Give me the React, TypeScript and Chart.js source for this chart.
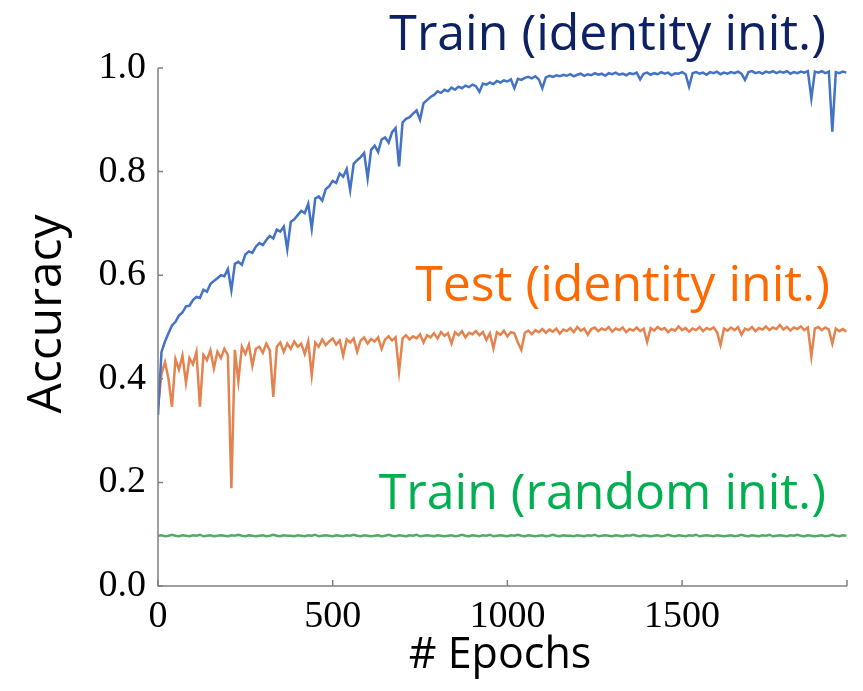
import React, { useEffect, useRef } from "react";
import { Chart, registerables } from "chart.js";

Chart.register(...registerables);

const epochs = [
  0, 10, 20, 30, 40, 50, 60, 70, 80, 90, 100, 110, 120, 130, 140, 150, 160, 170, 180, 190,
  200, 210, 220, 230, 240, 250, 260, 270, 280, 290, 300, 310, 320, 330, 340, 350, 360, 370, 380, 390,
  400, 410, 420, 430, 440, 450, 460, 470, 480, 490, 500, 510, 520, 530, 540, 550, 560, 570, 580, 590,
  600, 610, 620, 630, 640, 650, 660, 670, 680, 690, 700, 710, 720, 730, 740, 750, 760, 770, 780, 790,
  800, 810, 820, 830, 840, 850, 860, 870, 880, 890, 900, 910, 920, 930, 940, 950, 960, 970, 980, 990,
  1000, 1010, 1020, 1030, 1040, 1050, 1060, 1070, 1080, 1090, 1100, 1110, 1120, 1130, 1140, 1150, 1160, 1170, 1180, 1190,
  1200, 1210, 1220, 1230, 1240, 1250, 1260, 1270, 1280, 1290, 1300, 1310, 1320, 1330, 1340, 1350, 1360, 1370, 1380, 1390,
  1400, 1410, 1420, 1430, 1440, 1450, 1460, 1470, 1480, 1490, 1500, 1510, 1520, 1530, 1540, 1550, 1560, 1570, 1580, 1590,
  1600, 1610, 1620, 1630, 1640, 1650, 1660, 1670, 1680, 1690, 1700, 1710, 1720, 1730, 1740, 1750, 1760, 1770, 1780, 1790,
  1800, 1810, 1820, 1830, 1840, 1850, 1860, 1870, 1880, 1890, 1900, 1910, 1920, 1930, 1940, 1950, 1960, 1970,
];

const trainIdentity = [
  0.330, 0.452, 0.472, 0.488, 0.503, 0.510, 0.522, 0.528, 0.540, 0.541, 0.552, 0.558, 0.556, 0.572, 0.568, 0.583, 0.589, 0.594, 0.600, 0.598,
  0.612, 0.571, 0.622, 0.626, 0.620, 0.640, 0.646, 0.643, 0.655, 0.662, 0.658, 0.668, 0.676, 0.671, 0.688, 0.684, 0.694, 0.650, 0.703, 0.708,
  0.716, 0.724, 0.720, 0.738, 0.690, 0.748, 0.752, 0.744, 0.766, 0.772, 0.782, 0.778, 0.796, 0.790, 0.805, 0.764, 0.815, 0.822, 0.828, 0.836,
  0.787, 0.842, 0.850, 0.838, 0.862, 0.866, 0.856, 0.876, 0.884, 0.810, 0.895, 0.902, 0.905, 0.912, 0.918, 0.900, 0.932, 0.938, 0.944, 0.948,
  0.955, 0.952, 0.958, 0.955, 0.962, 0.958, 0.964, 0.961, 0.966, 0.963, 0.968, 0.965, 0.954, 0.970, 0.968, 0.972, 0.969, 0.975, 0.972, 0.976,
  0.974, 0.978, 0.961, 0.979, 0.977, 0.981, 0.983, 0.980, 0.984, 0.978, 0.961, 0.982, 0.985, 0.983, 0.986, 0.984, 0.987, 0.985, 0.988, 0.984,
  0.987, 0.989, 0.985, 0.988, 0.986, 0.990, 0.987, 0.989, 0.985, 0.990, 0.988, 0.991, 0.987, 0.989, 0.986, 0.990, 0.988, 0.991, 0.978, 0.989,
  0.991, 0.987, 0.990, 0.988, 0.992, 0.989, 0.991, 0.986, 0.990, 0.989, 0.992, 0.988, 0.964, 0.990, 0.992, 0.989, 0.991, 0.987, 0.992, 0.990,
  0.993, 0.988, 0.991, 0.989, 0.992, 0.990, 0.993, 0.989, 0.977, 0.992, 0.994, 0.990, 0.992, 0.989, 0.993, 0.991, 0.994, 0.990, 0.993, 0.991,
  0.994, 0.989, 0.992, 0.990, 0.993, 0.991, 0.994, 0.941, 0.993, 0.991, 0.994, 0.990, 0.993, 0.877, 0.992, 0.990, 0.993, 0.991,
];

const testIdentity = [
  0.346, 0.410, 0.432, 0.400, 0.346, 0.438, 0.418, 0.445, 0.392, 0.440, 0.428, 0.452, 0.346, 0.446, 0.436, 0.455, 0.420, 0.452, 0.440, 0.458,
  0.446, 0.189, 0.456, 0.395, 0.462, 0.448, 0.466, 0.425, 0.458, 0.462, 0.450, 0.468, 0.455, 0.365, 0.462, 0.470, 0.452, 0.468, 0.458, 0.472,
  0.462, 0.468, 0.448, 0.472, 0.407, 0.470, 0.462, 0.476, 0.465, 0.472, 0.478, 0.466, 0.474, 0.445, 0.476, 0.470, 0.478, 0.452, 0.474, 0.480,
  0.468, 0.477, 0.472, 0.480, 0.458, 0.476, 0.482, 0.474, 0.480, 0.414, 0.478, 0.484, 0.476, 0.482, 0.478, 0.486, 0.470, 0.484, 0.480, 0.488,
  0.478, 0.490, 0.483, 0.488, 0.468, 0.490, 0.484, 0.492, 0.480, 0.489, 0.486, 0.492, 0.484, 0.490, 0.475, 0.488, 0.459, 0.490, 0.485, 0.493,
  0.482, 0.490, 0.488, 0.470, 0.456, 0.489, 0.493, 0.486, 0.494, 0.490, 0.496, 0.489, 0.495, 0.491, 0.497, 0.487, 0.495, 0.492, 0.498, 0.490,
  0.500, 0.493, 0.497, 0.485, 0.496, 0.499, 0.492, 0.497, 0.494, 0.500, 0.491, 0.497, 0.494, 0.499, 0.490, 0.496, 0.493, 0.499, 0.492, 0.497,
  0.471, 0.498, 0.493, 0.500, 0.495, 0.498, 0.490, 0.496, 0.493, 0.501, 0.494, 0.498, 0.491, 0.497, 0.494, 0.500, 0.492, 0.498, 0.495, 0.499,
  0.490, 0.465, 0.497, 0.493, 0.499, 0.494, 0.500, 0.485, 0.497, 0.494, 0.500, 0.492, 0.498, 0.495, 0.501, 0.494, 0.499, 0.496, 0.504, 0.495,
  0.500, 0.493, 0.499, 0.496, 0.501, 0.494, 0.499, 0.443, 0.497, 0.500, 0.494, 0.499, 0.495, 0.468, 0.497, 0.492, 0.496, 0.491,
];

const trainRandom = [
  0.097, 0.098, 0.096, 0.097, 0.099, 0.097, 0.096, 0.098, 0.097, 0.096, 0.098, 0.097, 0.099, 0.096, 0.097, 0.098, 0.096, 0.097, 0.098, 0.097,
  0.096, 0.098, 0.097, 0.099, 0.097, 0.096, 0.098, 0.097, 0.096, 0.097, 0.098, 0.096, 0.097, 0.099, 0.097, 0.096, 0.098, 0.097, 0.097, 0.096,
  0.098, 0.097, 0.096, 0.098, 0.097, 0.099, 0.096, 0.097, 0.098, 0.097, 0.096, 0.098, 0.097, 0.096, 0.098, 0.097, 0.099, 0.097, 0.096, 0.098,
  0.097, 0.096, 0.097, 0.098, 0.096, 0.097, 0.099, 0.097, 0.096, 0.098, 0.097, 0.096, 0.098, 0.097, 0.099, 0.096, 0.097, 0.098, 0.097, 0.096,
  0.098, 0.097, 0.096, 0.097, 0.098, 0.096, 0.097, 0.099, 0.097, 0.096, 0.098, 0.097, 0.096, 0.098, 0.097, 0.099, 0.096, 0.097, 0.098, 0.097,
  0.096, 0.098, 0.097, 0.099, 0.097, 0.096, 0.098, 0.097, 0.096, 0.097, 0.098, 0.096, 0.097, 0.099, 0.097, 0.096, 0.098, 0.097, 0.097, 0.096,
  0.098, 0.097, 0.096, 0.098, 0.097, 0.099, 0.096, 0.097, 0.098, 0.097, 0.096, 0.098, 0.097, 0.096, 0.098, 0.097, 0.099, 0.097, 0.096, 0.098,
  0.097, 0.096, 0.097, 0.098, 0.096, 0.097, 0.099, 0.097, 0.096, 0.098, 0.097, 0.096, 0.098, 0.097, 0.099, 0.096, 0.097, 0.098, 0.097, 0.096,
  0.098, 0.097, 0.096, 0.097, 0.098, 0.096, 0.097, 0.099, 0.097, 0.096, 0.098, 0.097, 0.096, 0.098, 0.097, 0.099, 0.096, 0.097, 0.098, 0.097,
  0.096, 0.098, 0.097, 0.099, 0.097, 0.096, 0.098, 0.097, 0.096, 0.097, 0.098, 0.096, 0.097, 0.099, 0.097, 0.096, 0.098, 0.097,
];

const xTickValues = [0, 500, 1000, 1500];
const yTickValues = [0, 0.2, 0.4, 0.6, 0.8, 1.0];

const seriesNames = ["Train (identity init.)", "Test (identity init.)", "Train (random init.)"];
const xTitle = "# Epochs";
const yTitle = "Accuracy";

const SANS = '"Open Sans", "Noto Sans", sans-serif';
const SERIF = '"Liberation Serif", "DejaVu Serif", serif';

const overlayPlugin = {
  id: "overlay",
  afterDraw(chart: any) {
    const { ctx, chartArea, scales } = chart;
    const xs = scales.x;
    const ys = scales.y;
    ctx.save();
    ctx.strokeStyle = "#808080";
    ctx.lineWidth = 1.5;
    ctx.beginPath();
    ctx.moveTo(chartArea.left, chartArea.top);
    ctx.lineTo(chartArea.left, chartArea.bottom);
    ctx.lineTo(chartArea.right, chartArea.bottom);
    ctx.stroke();
    ctx.beginPath();
    xs.ticks.forEach((t: any) => {
      const px = xs.getPixelForValue(t.value);
      ctx.moveTo(px, chartArea.bottom);
      ctx.lineTo(px, chartArea.bottom - 6);
    });
    ys.ticks.forEach((t: any) => {
      const py = ys.getPixelForValue(t.value);
      ctx.moveTo(chartArea.left, py);
      ctx.lineTo(chartArea.left + 5, py);
    });
    ctx.stroke();

    // annotations
    ctx.textAlign = "right";
    ctx.textBaseline = "alphabetic";
    ctx.font = `50px ${SANS}`;
    ctx.fillStyle = "#0d2163";
    ctx.fillText(seriesNames[0], 826, 50);
    ctx.fillStyle = "#ff6a00";
    ctx.fillText(seriesNames[1], 830, 301);
    ctx.fillStyle = "#00b050";
    ctx.fillText(seriesNames[2], 826, 509);

    // axis titles
    ctx.fillStyle = "#000";
    ctx.font = `43px ${SANS}`;
    ctx.textAlign = "center";
    ctx.fillText(xTitle, 500, 668);
    ctx.save();
    ctx.translate(61, 314);
    ctx.rotate(-Math.PI / 2);
    ctx.font = `48px ${SANS}`;
    ctx.fillText(yTitle, 0, 0);
    ctx.restore();
    ctx.restore();
  },
};

export default function App() {
  const ref = useRef<HTMLCanvasElement | null>(null);
  useEffect(() => {
    if (!ref.current) return;
    const chart = new Chart(ref.current, {
      type: "line",
      data: {
        datasets: [
          {
            label: seriesNames[0],
            data: epochs.map((e, i) => ({ x: e, y: trainIdentity[i] })),
            borderColor: "#4472c4",
            borderWidth: 2.5,
            pointRadius: 0,
            tension: 0,
          },
          {
            label: seriesNames[1],
            data: epochs.map((e, i) => ({ x: e, y: testIdentity[i] })),
            borderColor: "#e3834f",
            borderWidth: 2.5,
            pointRadius: 0,
            tension: 0,
          },
          {
            label: seriesNames[2],
            data: epochs.map((e, i) => ({ x: e, y: trainRandom[i] })),
            borderColor: "#55aa63",
            borderWidth: 2.5,
            pointRadius: 0,
            tension: 0,
          },
        ],
      },
      options: {
        animation: false,
        responsive: true,
        maintainAspectRatio: false,
        layout: { padding: { top: 68, right: 16, left: 0, bottom: 0 } },
        plugins: { legend: { display: false }, tooltip: { enabled: false } },
        scales: {
          x: {
            type: "linear",
            min: 0,
            max: 1972,
            grid: { display: false, drawTicks: false },
            border: { display: false },
            afterFit: (s: any) => {
              s.height = 105;
            },
            afterBuildTicks: (s: any) => {
              s.ticks = [...xTickValues.map((v) => ({ value: v })), { value: 1972 }];
            },
            ticks: {
              padding: 8,
              autoSkip: false,
              maxRotation: 0,
              color: "#000",
              font: { family: SERIF, size: 38 },
              callback: (v: any) => (xTickValues.includes(v) ? String(v) : ""),
            },
          },
          y: {
            type: "linear",
            min: 0,
            max: 1,
            grid: { display: false, drawTicks: false },
            border: { display: false },
            afterFit: (s: any) => {
              s.width = 158;
            },
            afterBuildTicks: (s: any) => {
              s.ticks = yTickValues.map((v) => ({ value: v }));
            },
            ticks: {
              padding: 12,
              color: "#000",
              font: { family: SERIF, size: 38 },
              callback: (v: any) => Number(v).toFixed(1),
            },
          },
        },
      },
      plugins: [overlayPlugin],
    });
    return () => chart.destroy();
  }, []);
  return (
    <div style={{ position: "absolute", left: 0, top: 0, width: 863, height: 691 }}>
      <canvas ref={ref} />
    </div>
  );
}
